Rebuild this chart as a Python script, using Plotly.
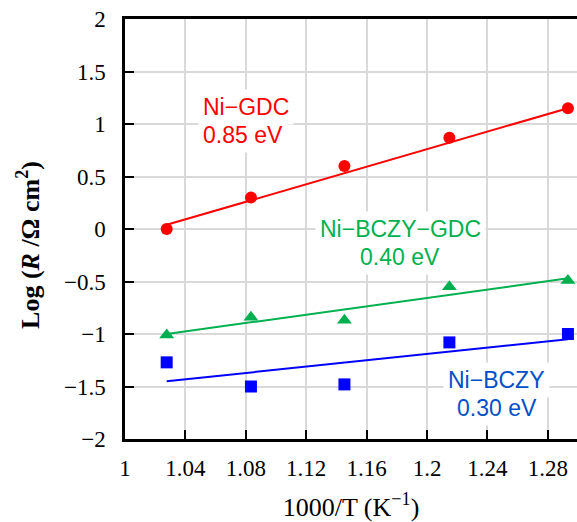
import plotly.graph_objects as go

# ---- data ----
inv_T = [1.0276, 1.0834, 1.1453, 1.2148, 1.2933]
logR_gdc = [0.00, 0.30, 0.60, 0.87, 1.15]
logR_bczy_gdc = [-1.01, -0.84, -0.87, -0.55, -0.49]
logR_bczy = [-1.27, -1.50, -1.48, -1.08, -1.00]

fit_x = [1.0276, 1.2933]
fit_gdc = [0.04, 1.15]
fit_bczy_gdc = [-1.00, -0.47]
fit_bczy = [-1.45, -1.05]

label_names = ["Ni−GDC", "Ni−BCZY−GDC", "Ni−BCZY"]
label_energies = ["0.85 eV", "0.40 eV", "0.30 eV"]

RED = "#ff0000"
GREEN = "#00b050"
BLUE = "#0000ff"
BLUE_TXT = "#0050c8"

fig = go.Figure()
for fy, col in [(fit_gdc, RED), (fit_bczy_gdc, GREEN), (fit_bczy, BLUE)]:
    fig.add_trace(go.Scatter(x=fit_x, y=fy, mode="lines",
                             line=dict(color=col, width=2), showlegend=False))
fig.add_trace(go.Scatter(x=inv_T, y=logR_gdc, mode="markers",
                         marker=dict(symbol="circle", size=12, color=RED), showlegend=False))
fig.add_trace(go.Scatter(x=inv_T, y=logR_bczy_gdc, mode="markers",
                         marker=dict(symbol="triangle-up", size=13, color=GREEN), showlegend=False))
fig.add_trace(go.Scatter(x=inv_T, y=logR_bczy, mode="markers",
                         marker=dict(symbol="square", size=12, color=BLUE), showlegend=False))

txt_font = "Liberation Sans, Arial, sans-serif"
# (x, y line1, y line2, anchor, color)
placements = [
    (1.0484, 1.165, 0.898, "left", RED),
    (1.1821, 0.003, -0.264, "center", GREEN),
    (1.2460, -1.435, -1.702, "center", BLUE_TXT),
]
for (x, y1, y2, anc, col), nm, en in zip(placements, label_names, label_energies):
    for yy, t in [(y1, nm), (y2, en)]:
        fig.add_annotation(x=x, y=yy, text=t, showarrow=False, xanchor=anc,
                           font=dict(family=txt_font, size=23, color=col),
                           bgcolor="white", borderpad=4)

serif = "Liberation Serif, Times New Roman, serif"
# y-axis title (placed as a rotated annotation to match its vertical offset)
fig.add_annotation(xref="paper", yref="paper", x=-0.2124, y=0.462,
                   text="<b>Log (<i>R</i> /Ω cm<sup>2</sup>)</b>", textangle=-90,
                   showarrow=False, xanchor="center", yanchor="middle",
                   font=dict(family=serif, size=26, color="black"))

fig.update_layout(
    width=577, height=522,
    margin=dict(l=125, r=0, t=19, b=83),
    plot_bgcolor="white", paper_bgcolor="white",
    font=dict(family=serif, size=23, color="black"),
    xaxis=dict(range=[1, 1.2993], tick0=1, dtick=0.04, showgrid=True,
               gridcolor="#d9d9d9", gridwidth=1.5, showline=True, linecolor="black",
               linewidth=2.5, mirror=True, ticks="inside", ticklen=9, tickwidth=2,
               tickcolor="black", zeroline=False, ticklabelstandoff=7,
               tickfont=dict(family=serif, size=23),
               title=dict(text="1000/T (K<sup>−1</sup>)", standoff=21,
                          font=dict(family=serif, size=26))),
    yaxis=dict(range=[-2, 2], tick0=-2, dtick=0.5, showgrid=True,
               gridcolor="#d9d9d9", gridwidth=1.5, showline=True, linecolor="black",
               linewidth=2.5, ticks="inside", ticklen=9, tickwidth=2,
               tickcolor="black", zeroline=False, ticklabelstandoff=12,
               tickfont=dict(family=serif, size=23)),
)

fig.write_html("out.html")
